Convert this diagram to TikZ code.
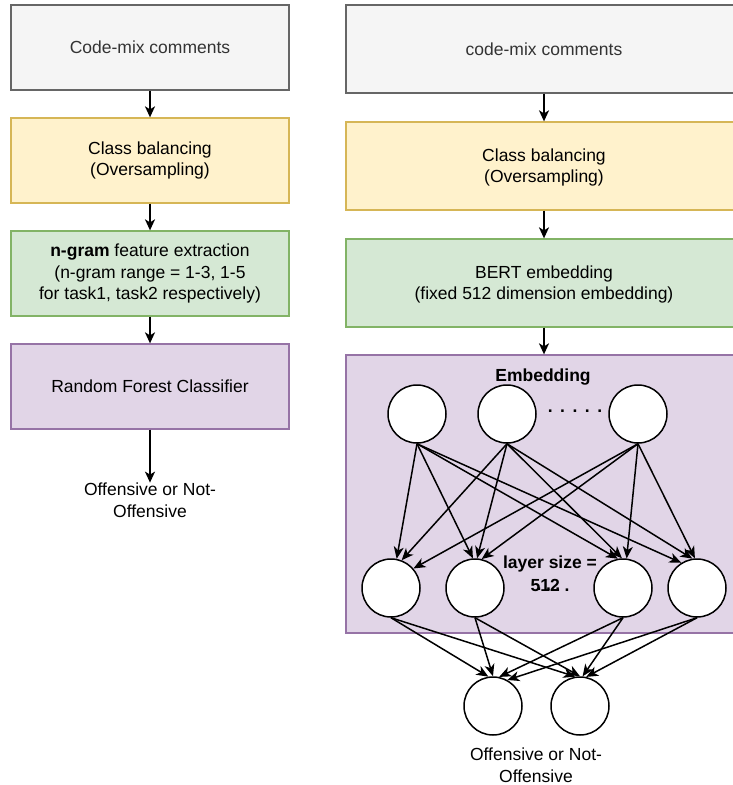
\documentclass[tikz,border=0pt]{standalone}
\usepackage{fontspec}
\setmainfont{Liberation Sans}
\usetikzlibrary{arrows.meta}
\definecolor{greyfill}{HTML}{F5F5F5}
\definecolor{greyline}{HTML}{666666}
\definecolor{greytext}{HTML}{333333}
\definecolor{yelfill}{HTML}{FFF2CC}
\definecolor{yelline}{HTML}{D6B656}
\definecolor{grnfill}{HTML}{D5E8D4}
\definecolor{grnline}{HTML}{82B366}
\definecolor{purfill}{HTML}{E1D5E7}
\definecolor{purline}{HTML}{9673A6}
\begin{document}
\begin{tikzpicture}[x=1pt,y=-1pt,
  every node/.style={font=\fontsize{17.5}{21.5}\selectfont, align=center, inner sep=0pt},
  lbox/.style={rectangle, minimum width=278pt, minimum height=85pt, line width=1.3pt},
  rbox/.style={rectangle, minimum width=396pt, minimum height=88pt, line width=1.3pt},
  greybox/.style={fill=greyfill, draw=greyline, text=greytext},
  yelbox/.style={fill=yelfill, draw=yelline},
  grnbox/.style={fill=grnfill, draw=grnline},
  purbox/.style={fill=purfill, draw=purline},
  neuron/.style={circle, draw=black, fill=white, minimum size=58pt, line width=1.5pt},
  arr/.style={-{Stealth[length=11pt,width=10pt,inset=3pt]}, line width=1.6pt},
  narr/.style={-{Stealth[length=12pt,width=10pt,inset=3.5pt]}, line width=1.5pt},
  boldtxt/.style={font=\fontsize{17.5}{23}\selectfont\bfseries}
]
\useasboundingbox (0,0) rectangle (732,785);

% left column
\node[lbox, greybox] (l1) at (150,47.5) {Code-mix comments};
\node[lbox, yelbox] (l2) at (150,160.5) {Class balancing\\(Oversampling)};
\node[lbox, grnbox] (l3) at (150,273.5) {\textbf{n-gram} feature extraction\\(n-gram range = 1-3, 1-5\\for task1, task2 respectively)};
\node[lbox, purbox] (l4) at (150,386.5) {Random Forest Classifier};
\node (lout) at (150,500) {Offensive or Not-\\Offensive};
\draw[arr] (l1) -- (l2);
\draw[arr] (l2) -- (l3);
\draw[arr] (l3) -- (l4);
\draw[arr] (l4) -- (lout);

% right column
\node[rbox, greybox] (r1) at (544,49) {code-mix comments};
\node[rbox, yelbox] (r2) at (544,166) {\rule{0pt}{16pt}Class balancing\\(Oversampling)};
\node[rbox, grnbox] (r3) at (544,283) {\rule{0pt}{16pt}BERT embedding\\(fixed 512 dimension embedding)};
\node[rectangle, purbox, line width=1.3pt, minimum width=396pt, minimum height=278pt] (nn) at (544,494) {};
\draw[arr] (r1) -- (r2);
\draw[arr] (r2) -- (r3);
\draw[arr] (r3) -- (nn);

\node[boldtxt] (emb) at (543,377) {Embedding};
\node[neuron] (t1) at (417,414) {};
\node[neuron] (t2) at (507,414) {};
\node[neuron] (t3) at (638,414) {};
\node[boldtxt] (tdots) at (575,411) {.\hspace{7.5pt}.\hspace{7.5pt}.\hspace{7.5pt}.\hspace{7.5pt}.};

\node[neuron] (b1) at (391,588) {};
\node[neuron] (b2) at (475,588) {};
\node[neuron] (b3) at (623,588) {};
\node[neuron] (b4) at (697,588) {};

\node[neuron] (o1) at (493,706) {};
\node[neuron] (o2) at (580,706) {};
\node (rout) at (536,765) {Offensive or Not-\\Offensive};

\foreach \s/\t/\a in {t1/b1/79, t2/b1/69, t3/b1/41,
                      t1/b2/94, t2/b2/86, t3/b2/77,
                      t1/b3/100, t2/b3/92, t3/b3/83,
                      t1/b4/122, t2/b4/99, t3/b4/94}
  \draw[narr] (\s.south) -- (\t.\a);
\foreach \s/\t/\a in {b1/o1/99, b2/o1/90, b3/o1/78, b4/o1/61,
                      b1/o2/99, b2/o2/90, b3/o2/85, b4/o2/78}
  \draw[narr] (\s.south) -- (\t.\a);

\node[boldtxt] (lsize) at (550,574) {layer size =\\512 .};
\node[boldtxt] (bdots) at (548.5,589) {.\hspace{4.5pt}.\hspace{4.5pt}.};
\end{tikzpicture}
\end{document}
